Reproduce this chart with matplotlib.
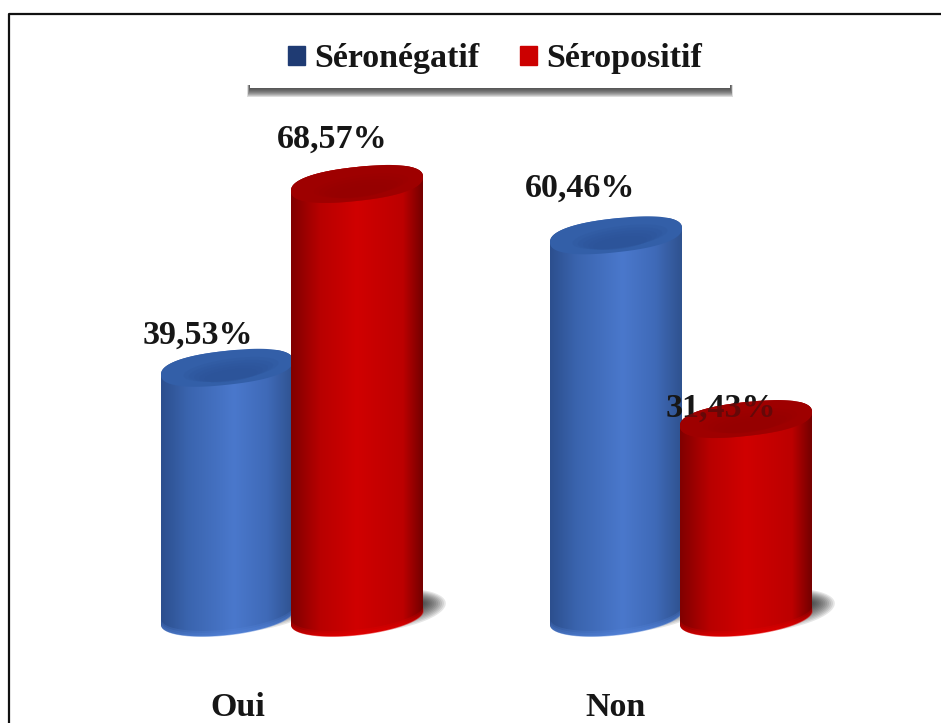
import numpy as np
import matplotlib
matplotlib.use("Agg")
import matplotlib.pyplot as plt
from matplotlib.colors import LinearSegmentedColormap
from matplotlib.lines import Line2D
from matplotlib.patches import Patch, PathPatch, Rectangle
from matplotlib.path import Path

# =========================================
# DATA
# =========================================

categories = ["Oui", "Non"]
series_names = ["Séronégatif", "Séropositif"]
seronegatif = [39.53, 60.46]
seropositif = [68.57, 31.43]

# =========================================
# STYLE
# =========================================

W, H = 941, 723
PX_X = 389.0    # pixels per category
PX_Y = 6.33     # pixels per percentage point
X0, Y0 = 292, 618    # where category 0 and value 0 sit in the figure

HALF_W = 66 / PX_X
CAP_H = 17 / PX_Y
TILT = 7 / PX_Y
CAP_ROUND = 0.85     # below 1 squares the top face off a little

FONT = "Liberation Serif"
FONT_SIZE = 24.5
TEXT_COLOR = "#161616"

blue_cmap = LinearSegmentedColormap.from_list("blue_body", [
    (0.0, "#2c4f8e"), (0.2, "#3a64ae"), (0.55, "#4a78cc"),
    (0.8, "#3f6ab8"), (1.0, "#2f528f")])
red_cmap = LinearSegmentedColormap.from_list("red_body", [
    (0.0, "#800000"), (0.22, "#b80000"), (0.5, "#d00000"),
    (0.85, "#bc0000"), (1.0, "#740000")])

# label offsets from the centre of each cap, in pixels (one row per series)
label_dx = [[-29, -36], [-25, -25]]
label_dy = [[33, 47], [45, 11]]
cat_label_dx = [-54, -66]


def tilted_ellipse(cx, cy, half_w, cap_h, tilt, start=0.0, stop=2 * np.pi, p=1.0):
    t = np.linspace(start, stop, 120)
    c = np.sign(np.cos(t)) * np.abs(np.cos(t)) ** p
    s = np.sign(np.sin(t)) * np.abs(np.sin(t)) ** p
    return cx + half_w * c, cy + cap_h * s + tilt * c


def fill_ellipse(ax, cx, cy, half_w, cap_h, tilt, color, zorder, alpha=1.0, p=1.0):
    x, y = tilted_ellipse(cx, cy, half_w, cap_h, tilt, p=p)
    ax.fill(x, y, color=color, lw=0, alpha=alpha, zorder=zorder)


def px_to_fig(x, y):
    return x / W, 1 - y / H


def draw_cylinder(ax, cx, value, cmap, cap_outer, cap_inner, rim, zorder):
    # soft shadow falling to the right of the base
    for i in range(12):
        grow = (12 - i) * 1.9 / PX_X
        fill_ellipse(ax, cx + grow, 1.2, HALF_W,
                     CAP_H * (0.5 + 0.06 * (12 - i)), TILT, "#202020", 1, alpha=0.11)

    # body outline: front of the base, then straight up to the cap
    xb, yb = tilted_ellipse(cx, 0, HALF_W, CAP_H, TILT, 0, -np.pi)
    xt, yt = tilted_ellipse(cx, value, HALF_W, CAP_H, TILT, np.pi, 0, p=CAP_ROUND)
    verts = np.column_stack([np.r_[xb, xt], np.r_[yb, yt]])
    codes = [Path.MOVETO] + [Path.LINETO] * (len(verts) - 1)
    body = PathPatch(Path(verts, codes), fc="none", ec="none", zorder=zorder)
    ax.add_patch(body)

    gradient = np.linspace(0, 1, 256).reshape(1, -1)
    im = ax.imshow(gradient, cmap=cmap, aspect="auto", zorder=zorder,
                   extent=[cx - HALF_W, cx + HALF_W, -CAP_H - TILT, value + CAP_H],
                   interpolation="bilinear")
    im.set_clip_path(body)

    # brighter rim along the front of the base
    for d in (2, 4, 6):
        ax.fill_between(xb, yb, yb + d / PX_Y, color=rim, lw=0, alpha=0.2, zorder=zorder + 0.05)

    # top face with a darker inner zone towards the front
    fill_ellipse(ax, cx, value, HALF_W, CAP_H, TILT, cap_outer, zorder + 0.1, p=CAP_ROUND)
    for k in np.linspace(0.9, 0.5, 5):
        fill_ellipse(ax, cx + 4 / PX_X, value - CAP_H * (1 - k) * 0.9, HALF_W * k * 0.8,
                     CAP_H * k * 0.7, TILT * k, cap_inner, zorder + 0.2, alpha=0.16)


# =========================================
# FIGURE
# =========================================

fig = plt.figure(figsize=(W / 100, H / 100), dpi=100, facecolor="white")
ax = fig.add_axes([0, 0, 1, 1])

x = np.arange(len(categories))
offset = 65 / PX_X

for i in x:
    draw_cylinder(ax, i - offset, seronegatif[i], blue_cmap, "#335fa8", "#2a4f92", "#5a8ae0", 2)
    draw_cylinder(ax, i + offset, seropositif[i], red_cmap, "#a60000", "#860000", "#f00000", 4)

ax.set_xlim(-X0 / PX_X, (W - X0) / PX_X)
ax.set_ylim(-(H - Y0) / PX_Y, Y0 / PX_Y)
ax.axis("off")

# =========================================
# LABELS
# =========================================

for s, values in enumerate([seronegatif, seropositif]):
    for i, v in enumerate(values):
        cx = i + (offset if s else -offset)
        ax.text(cx + label_dx[s][i] / PX_X, v + label_dy[s][i] / PX_Y,
                f"{v:.2f}%".replace(".", ","),
                ha="center", va="center", family=FONT, weight="bold",
                fontsize=FONT_SIZE, color=TEXT_COLOR, zorder=6)

# red top faces veil whatever label runs across them
for i in x:
    fill_ellipse(ax, i + offset, seropositif[i], HALF_W, CAP_H, TILT, "#9a0000", 7,
                 alpha=0.6, p=CAP_ROUND)

for i, name in enumerate(categories):
    ax.text(i + cat_label_dx[i] / PX_X, -(716 - Y0) / PX_Y, name,
            ha="center", va="baseline", family=FONT, weight="bold",
            fontsize=FONT_SIZE, color=TEXT_COLOR, zorder=6)

# =========================================
# LEGEND
# =========================================

lx0, lx1, ly0, ly1 = 250, 730, 33, 88

for i in range(9):
    g = 9 - i
    fx, fy = px_to_fig(lx0 - g * 0.3, ly1 + g)
    fig.add_artist(Rectangle((fx, fy), (lx1 - lx0 + 0.6 * g) / W, (g + 3) / H,
                             transform=fig.transFigure, fc="#303030", ec="none",
                             alpha=0.16, zorder=8))
fx, fy = px_to_fig(lx0, ly1)
fig.add_artist(Rectangle((fx, fy), (lx1 - lx0) / W, (ly1 - ly0) / H,
                         transform=fig.transFigure, fc="white", ec="none", zorder=9))

handles = [Patch(color="#1f3b73", label=series_names[0]),
           Patch(color="#cc0000", label=series_names[1])]
leg = fig.legend(handles=handles, loc="center", bbox_to_anchor=px_to_fig(495, 59),
                 ncol=2, frameon=False, handlelength=0.5, handleheight=0.5,
                 handletextpad=0.26, columnspacing=1.2, labelcolor=TEXT_COLOR,
                 prop={"family": FONT, "weight": "bold", "size": FONT_SIZE})
leg.set_zorder(10)

# =========================================
# FRAME (left and top only)
# =========================================

fx, fy = px_to_fig(9, 14)
fig.add_artist(Line2D([fx, fx, 1], [0, fy, fy], transform=fig.transFigure,
                      color="#111111", lw=1.6, zorder=11))

fig.savefig("out.png", dpi=100, facecolor="white")
